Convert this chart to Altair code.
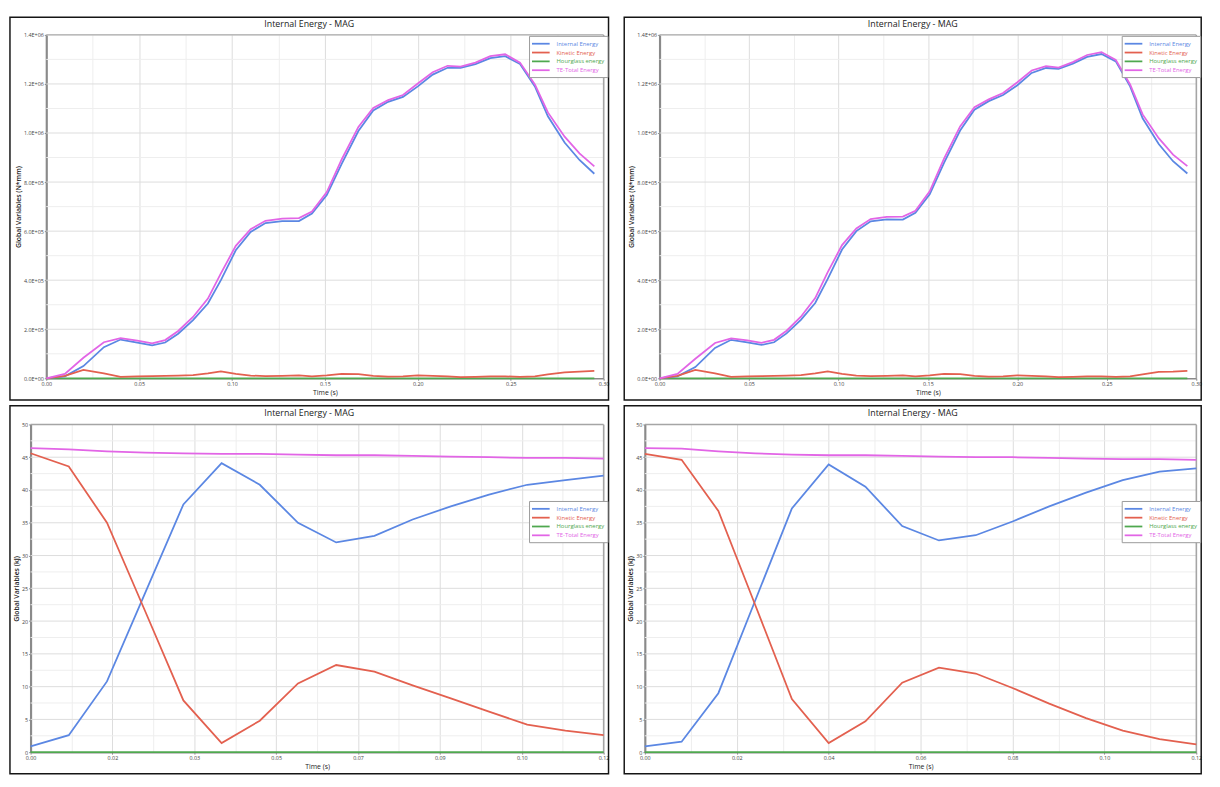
import altair as alt
import pandas as pd

SERIES = ["Internal Energy", "Kinetic Energy", "Hourglass energy", "TE-Total Energy"]
COLORS = ["#5b87e3", "#e3604f", "#4fa84f", "#e265e6"]
TITLE = "Internal Energy - MAG"
FONT = "Open Sans"

# ---------------- top panels (N*mm) ----------------
TOP_TIME = [0.0, 0.010, 0.020, 0.031, 0.040, 0.049, 0.057, 0.064, 0.071, 0.079, 0.087, 0.094,
            0.102, 0.110, 0.118, 0.127, 0.136, 0.143, 0.151, 0.159, 0.168, 0.176, 0.184, 0.192,
            0.200, 0.208, 0.216, 0.223, 0.231, 0.239, 0.247, 0.255, 0.263, 0.270, 0.279, 0.287, 0.295]

TL_INTERNAL = [0, 8e3, 5.0e4, 1.27e5, 1.58e5, 1.46e5, 1.34e5, 1.46e5, 1.82e5, 2.37e5, 3.05e5, 4.0e5,
               5.22e5, 5.97e5, 6.33e5, 6.41e5, 6.41e5, 6.72e5, 7.47e5, 8.74e5, 1.008e6, 1.092e6, 1.127e6, 1.147e6,
               1.19e6, 1.238e6, 1.266e6, 1.266e6, 1.281e6, 1.305e6, 1.313e6, 1.281e6, 1.19e6, 1.068e6, 9.61e5, 8.9e5, 8.34e5]
TL_KINETIC = [0, 1.0e4, 3.4e4, 2.0e4, 6e3, 8e3, 9e3, 1.0e4, 1.1e4, 1.3e4, 2.0e4, 2.8e4,
              1.8e4, 1.1e4, 9e3, 1.0e4, 1.2e4, 8e3, 1.2e4, 1.8e4, 1.7e4, 1.0e4, 7e3, 8e3,
              1.2e4, 1.0e4, 8e3, 5e3, 6e3, 8e3, 8e3, 6e3, 8e3, 1.6e4, 2.4e4, 2.7e4, 3.0e4]
TL_TOTAL = [0, 1.8e4, 8.4e4, 1.47e5, 1.64e5, 1.54e5, 1.43e5, 1.56e5, 1.93e5, 2.5e5, 3.25e5, 4.28e5,
            5.4e5, 6.08e5, 6.42e5, 6.51e5, 6.53e5, 6.8e5, 7.59e5, 8.92e5, 1.025e6, 1.102e6, 1.134e6, 1.155e6,
            1.202e6, 1.248e6, 1.274e6, 1.271e6, 1.287e6, 1.313e6, 1.321e6, 1.287e6, 1.198e6, 1.084e6, 9.85e5, 9.17e5, 8.64e5]

TR_INTERNAL = [0, 8e3, 4.6e4, 1.24e5, 1.57e5, 1.47e5, 1.36e5, 1.47e5, 1.83e5, 2.38e5, 3.07e5, 4.05e5,
               5.25e5, 6.0e5, 6.4e5, 6.48e5, 6.47e5, 6.75e5, 7.5e5, 8.78e5, 1.01e6, 1.095e6, 1.13e6, 1.155e6,
               1.195e6, 1.245e6, 1.265e6, 1.262e6, 1.283e6, 1.31e6, 1.322e6, 1.292e6, 1.19e6, 1.06e6, 9.55e5, 8.85e5, 8.35e5]
TR_KINETIC = [0, 1.0e4, 3.4e4, 2.0e4, 6e3, 8e3, 9e3, 1.0e4, 1.1e4, 1.3e4, 2.0e4, 2.8e4,
              1.8e4, 1.1e4, 9e3, 1.0e4, 1.2e4, 8e3, 1.2e4, 1.8e4, 1.7e4, 1.0e4, 7e3, 8e3,
              1.2e4, 1.0e4, 8e3, 5e3, 6e3, 8e3, 8e3, 6e3, 8e3, 1.6e4, 2.6e4, 2.7e4, 3.0e4]
TR_TOTAL = [0, 1.8e4, 8.0e4, 1.44e5, 1.63e5, 1.55e5, 1.45e5, 1.57e5, 1.94e5, 2.51e5, 3.27e5, 4.33e5,
            5.43e5, 6.11e5, 6.49e5, 6.58e5, 6.59e5, 6.83e5, 7.62e5, 8.96e5, 1.027e6, 1.105e6, 1.137e6, 1.163e6,
            1.207e6, 1.255e6, 1.273e6, 1.267e6, 1.289e6, 1.318e6, 1.33e6, 1.298e6, 1.198e6, 1.076e6, 9.79e5, 9.12e5, 8.65e5]

TOP_HG_TIME = [0.0, 0.295]
TOP_HG = [0.0, 0.0]

# ---------------- bottom panels (kJ) ----------------
BOT_TIME = [0.0, 0.008, 0.016, 0.024, 0.032, 0.040, 0.048, 0.056, 0.064, 0.072, 0.080, 0.088,
            0.096, 0.104, 0.112, 0.120]
BL_INTERNAL = [0.9, 2.6, 10.8, 24.3, 37.8, 44.1, 40.8, 35.0, 32.0, 33.0, 35.5, 37.5, 39.3, 40.8, 41.5, 42.2]
BL_KINETIC = [45.6, 43.6, 35.0, 21.5, 7.9, 1.4, 4.8, 10.5, 13.3, 12.3, 10.2, 8.2, 6.2, 4.2, 3.3, 2.6]
BL_TOTAL = [46.4, 46.2, 45.9, 45.7, 45.6, 45.5, 45.5, 45.4, 45.3, 45.3, 45.2, 45.1, 45.0, 44.9, 44.9, 44.8]

BR_INTERNAL = [0.9, 1.6, 9.0, 23.1, 37.2, 43.9, 40.5, 34.5, 32.3, 33.1, 35.2, 37.5, 39.6, 41.5, 42.8, 43.3]
BR_KINETIC = [45.5, 44.6, 36.8, 22.5, 8.1, 1.4, 4.7, 10.6, 12.9, 12.0, 9.8, 7.4, 5.2, 3.3, 2.0, 1.2]
BR_TOTAL = [46.4, 46.3, 45.9, 45.6, 45.4, 45.3, 45.3, 45.2, 45.1, 45.0, 45.0, 44.9, 44.8, 44.7, 44.7, 44.6]

BOT_HG_TIME = [0.0, 0.12]
BOT_HG = [0.0, 0.0]

# ---------------- ticks ----------------
TOP_X_TICKS = [0.0, 0.025, 0.05, 0.075, 0.10, 0.125, 0.15, 0.175, 0.20, 0.225, 0.25, 0.275, 0.30]
TOP_Y_TICKS = [0, 1e5, 2e5, 3e5, 4e5, 5e5, 6e5, 7e5, 8e5, 9e5, 1e6, 1.1e6, 1.2e6, 1.3e6, 1.4e6]
TOP_Y_GRID_MAJOR = [2e5, 4e5, 6e5, 8e5, 1e6, 1.2e6]
TOP_Y_GRID_MINOR = [1e5, 3e5, 5e5, 7e5, 9e5, 1.1e6, 1.3e6]
BL_X_TICKS = [0.0, 0.00857, 0.01714, 0.02571, 0.03429, 0.04286, 0.05143, 0.06, 0.06857, 0.07714,
              0.08571, 0.09429, 0.10286, 0.11143, 0.12]
BR_X_TICKS = [0.0, 0.01, 0.02, 0.03, 0.04, 0.05, 0.06, 0.07, 0.08, 0.09, 0.10, 0.11, 0.12]
BOT_Y_TICKS = [0, 2.5, 5, 7.5, 10, 12.5, 15, 17.5, 20, 22.5, 25, 27.5, 30, 32.5, 35, 37.5, 40,
               42.5, 45, 47.5, 50]
BOT_Y_GRID_MAJOR = [5, 10, 15, 20, 25, 30, 35, 40, 45]
BOT_Y_GRID_MINOR = [2.5, 7.5, 12.5, 17.5, 22.5, 27.5, 32.5, 37.5, 42.5, 47.5]

TOP_X_MAJOR = "abs(datum.value*20 - round(datum.value*20)) < 0.001"
TOP_Y_MAJOR = "abs(datum.value/200000 - round(datum.value/200000)) < 0.001"
BL_X_MAJOR = "round(datum.value*14/0.12) % 2 === 0"
BR_X_MAJOR = "round(datum.value*100) % 2 === 0"
BOT_Y_MAJOR = "abs(datum.value/5 - round(datum.value/5)) < 0.001"

EXP = "floor(log(datum.value)/LN10 + 1e-9)"
TOP_Y_LABEL = (f"({TOP_Y_MAJOR}) ? (datum.value == 0 ? '0.0E+00' : "
               f"format(datum.value/pow(10, {EXP}), '.1f') + 'E+' + ({EXP} < 10 ? '0' : '') + {EXP}) : ''")

GRID_MAJOR_COLOR = "#dcdcdc"
GRID_MINOR_COLOR = "#eeeeee"
FRAME_COLOR = "#a5a5a5"


def make_df(time, internal, kinetic, total, hg_time, hg):
    rows = []
    for t, v in zip(hg_time, hg):
        rows.append({"t": t, "v": v, "series": SERIES[2]})
    for t, v in zip(time, internal):
        rows.append({"t": t, "v": v, "series": SERIES[0]})
    for t, v in zip(time, kinetic):
        rows.append({"t": t, "v": v, "series": SERIES[1]})
    for t, v in zip(time, total):
        rows.append({"t": t, "v": v, "series": SERIES[3]})
    return pd.DataFrame(rows)


def make_axis(values, label_expr, major, title, weight, grid, offset=0):
    kw = {}
    if grid:
        kw["gridColor"] = {"condition": {"test": major, "value": GRID_MAJOR_COLOR}, "value": GRID_MINOR_COLOR}
    return alt.Axis(
        values=values, labelExpr=label_expr, title=title, grid=grid, offset=offset,
        tickOpacity={"condition": {"test": major, "value": 1}, "value": 0},
        labelFlush=False, labelOverlap=False, titleFontWeight=weight, **kw
    )


LABEL_COLOR = ("datum.value === 'Internal Energy' ? '%s' : datum.value === 'Kinetic Energy' ? '%s' : "
               "datum.value === 'Hourglass energy' ? '%s' : '%s'") % tuple(COLORS)


def make_legend(lx, ly):
    return alt.Legend(
        title=None, orient="none", legendX=lx, legendY=ly,
        symbolType="M-2.25,0H2.25", symbolSize=64, symbolStrokeWidth=1.8,
        symbolOffset=4, labelOffset=11, labelFontSize=6, labelFont=FONT,
        labelColor=alt.ExprRef(expr=LABEL_COLOR),
        rowPadding=0, padding=3, strokeColor="#9a9a9a", fillColor="white", cornerRadius=0,
    )


def panel(df, w, h, d, box, xdom, ydom, xaxis, yaxis, grid_major, grid_minor, lx, ly):
    """d: how far the plot area reaches left of the layout origin."""
    left, top, right, bottom = box
    one = alt.Data(values=[{"k": 0}])
    yscale = alt.Scale(domain=ydom, nice=False)
    frame = alt.Chart(one).mark_rect(
        filled=False, stroke="#151515", strokeWidth=1.5
    ).encode(
        x=alt.value(-left), x2=alt.value(w + right),
        y=alt.value(-top), y2=alt.value(h + bottom),
    )
    minor = alt.Chart(pd.DataFrame({"v": grid_minor})).mark_rule(
        color=GRID_MINOR_COLOR, strokeWidth=1
    ).encode(y=alt.Y("v:Q", scale=yscale, axis=yaxis), x=alt.value(-d), x2=alt.value(w))
    major = alt.Chart(pd.DataFrame({"v": grid_major})).mark_rule(
        color=GRID_MAJOR_COLOR, strokeWidth=1
    ).encode(y=alt.Y("v:Q", scale=yscale, axis=yaxis), x=alt.value(-d), x2=alt.value(w))
    edge_top = alt.Chart(one).mark_rule(color=FRAME_COLOR, strokeWidth=1.5).encode(
        x=alt.value(-d), x2=alt.value(w), y=alt.value(0)
    )
    edge_right = alt.Chart(one).mark_rule(color=FRAME_COLOR, strokeWidth=1.5).encode(
        x=alt.value(w), y=alt.value(0), y2=alt.value(h)
    )
    title = alt.Chart(one).mark_text(
        font=FONT, fontSize=9, color="#222222", align="center", baseline="alphabetic"
    ).encode(
        x=alt.value((w + right - left) / 2), y=alt.value(-top + 10), text=alt.value(TITLE)
    )
    lines = alt.Chart(df).mark_line(strokeWidth=1.8).encode(
        x=alt.X("t:Q", scale=alt.Scale(domain=xdom, range=[-d, w], nice=False, zero=False), axis=xaxis),
        y=alt.Y("v:Q", scale=yscale, axis=yaxis),
        color=alt.Color("series:N", scale=alt.Scale(domain=SERIES, range=COLORS),
                        legend=make_legend(lx, ly)),
    )
    return alt.layer(frame, minor, major, edge_top, edge_right, lines, title).properties(width=w, height=h)


top_x_label = f"({TOP_X_MAJOR}) ? format(datum.value, '.2f') : ''"
bl_x_label = f"({BL_X_MAJOR}) ? format(datum.value, '.2f') : ''"
br_x_label = f"({BR_X_MAJOR}) ? format(datum.value, '.2f') : ''"
bot_y_label = f"({BOT_Y_MAJOR}) ? format(datum.value, 'd') : ''"

W_LEFT, W_RIGHT = 568, 547
H_TOP, H_BOT = 350, 334

tl = panel(make_df(TOP_TIME, TL_INTERNAL, TL_KINETIC, TL_TOTAL, TOP_HG_TIME, TOP_HG),
           W_LEFT, H_TOP, 0, (37, 18, 5, 22), [0, 0.30], [0, 1.4e6],
           make_axis(TOP_X_TICKS, top_x_label, TOP_X_MAJOR, "Time (s)", "normal", True),
           make_axis(TOP_Y_TICKS, TOP_Y_LABEL, TOP_Y_MAJOR, "Global Variables (N*mm)", 600, False),
           TOP_Y_GRID_MAJOR, TOP_Y_GRID_MINOR, W_LEFT - 76, 1)
tr = panel(make_df(TOP_TIME, TR_INTERNAL, TR_KINETIC, TR_TOTAL, TOP_HG_TIME, TOP_HG),
           W_RIGHT, H_TOP, 0, (36, 18, 5, 22), [0, 0.30], [0, 1.4e6],
           make_axis(TOP_X_TICKS, top_x_label, TOP_X_MAJOR, "Time (s)", "normal", True),
           make_axis(TOP_Y_TICKS, TOP_Y_LABEL, TOP_Y_MAJOR, "Global Variables (N*mm)", 600, False),
           TOP_Y_GRID_MAJOR, TOP_Y_GRID_MINOR, W_RIGHT - 76, 1)
bl = panel(make_df(BOT_TIME, BL_INTERNAL, BL_KINETIC, BL_TOTAL, BOT_HG_TIME, BOT_HG),
           W_LEFT, H_BOT, 16, (37, 19, 5, 22), [0, 0.12], [0, 50],
           make_axis(BL_X_TICKS, bl_x_label, BL_X_MAJOR, "Time (s)", "normal", True),
           make_axis(BOT_Y_TICKS, bot_y_label, BOT_Y_MAJOR, "Global Variables (kJ)", 600, False, 16),
           BOT_Y_GRID_MAJOR, BOT_Y_GRID_MINOR, W_LEFT - 76, 78)
br = panel(make_df(BOT_TIME, BR_INTERNAL, BR_KINETIC, BR_TOTAL, BOT_HG_TIME, BOT_HG),
           W_RIGHT, H_BOT, 15, (36, 19, 5, 22), [0, 0.12], [0, 50],
           make_axis(BR_X_TICKS, br_x_label, BR_X_MAJOR, "Time (s)", "normal", True),
           make_axis(BOT_Y_TICKS, bot_y_label, BOT_Y_MAJOR, "Global Variables (kJ)", 600, False, 15),
           BOT_Y_GRID_MAJOR, BOT_Y_GRID_MINOR, W_RIGHT - 76, 78)

chart = alt.concat(tl, tr, bl, br, columns=2, spacing=2).resolve_scale(
    color="independent"
).resolve_legend(
    color="independent"
).properties(
    padding=0, background="white"
).configure_view(
    stroke="transparent"
).configure_axis(
    labelFont=FONT, labelFontSize=5.5, labelColor="#444444",
    titleFont=FONT, titleFontSize=7, titleColor="#222222",
    domainColor="#8a8a8a", domainWidth=1.5, tickColor="#8a8a8a", tickSize=2,
    labelPadding=1, titlePadding=2,
).configure_axisY(
    domainWidth=2.2
)

chart.save("out.html", embed_options={"renderer": "svg", "actions": False})
